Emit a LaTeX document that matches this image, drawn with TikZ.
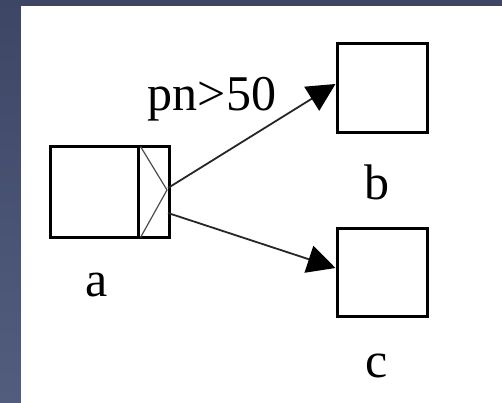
\documentclass[tikz,border=0pt]{standalone}
\usepackage{fontspec}
\setmainfont{Liberation Serif}
\usetikzlibrary{arrows.meta}
\definecolor{bgtop}{HTML}{3E4665}
\definecolor{bgbot}{HTML}{525D7D}
\tikzset{
  box/.style={draw=black, line width=3pt, fill=white, inner sep=0pt},
  lbl/.style={font=\fontsize{50}{54}\selectfont, inner sep=0pt},
  conn/.style={draw=black!85, line width=1.8pt, -{Triangle[length=28pt,width=28pt,fill=black,color=black]}},
  portline/.style={draw=black!70, line width=1.2pt}
}
\begin{document}
\begin{tikzpicture}[x=1pt,y=-1pt]
\useasboundingbox (0,0) rectangle (502,403);
\shade[top color=bgtop, bottom color=bgbot] (0,0) rectangle (502,403);
\fill[white] (21,6) rectangle (502,403);
% box a with port compartment
\node[box, minimum width=88pt, minimum height=90pt] (a) at (94,192) {};
\node[box, minimum width=31pt, minimum height=90pt] (ap) at (153.5,192) {};
\coordinate (v) at (167,190);
\coordinate (o1) at (168,188);
\coordinate (o2) at (168,213);
\draw[portline] (ap.north west) ++(4,1) -- (v) -- ([xshift=4pt,yshift=1pt]ap.south west);
% boxes b and c
\node[box, minimum width=90pt, minimum height=89pt] (b) at (382,88.5) {};
\node[box, minimum width=90pt, minimum height=88pt] (c) at (382,272) {};
% labels
\node[lbl] (la) at (97,285) {a};
\node[lbl] (lb) at (377,182) {b};
\node[lbl] (lc) at (377,366) {c};
\node[lbl] (lpn) at (212,99) {pn>50};
% connectors
\draw[conn] (o1) -- (b.west |- 0,84);
\draw[conn] (o2) -- (c.west |- 0,268);
\end{tikzpicture}
\end{document}
